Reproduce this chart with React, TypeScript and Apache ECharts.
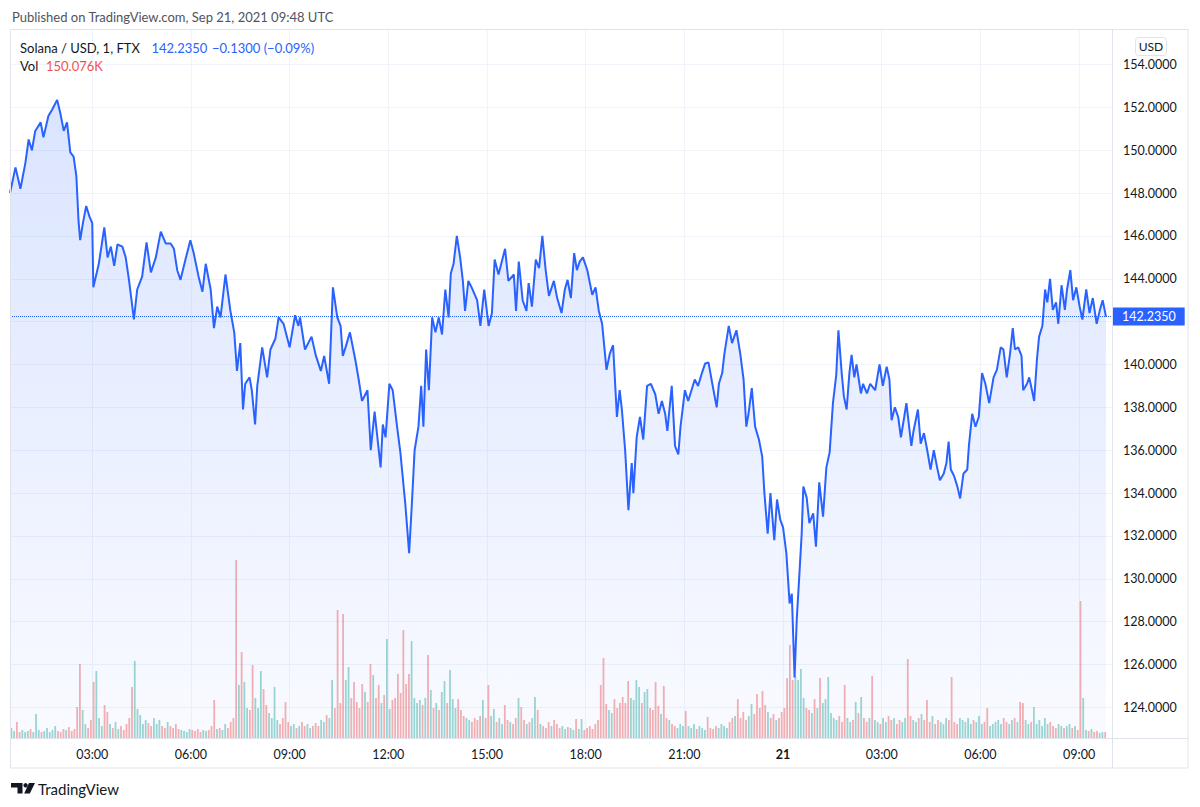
import React, { useEffect, useRef } from "react";
import * as echarts from "echarts";

// ---------- texts ----------
const headerText = "Published on TradingView.com, Sep 21, 2021 09:48 UTC";
const symbolText = "Solana / USD, 1, FTX";
const lastPriceText = "142.2350";
const changeText = "\u22120.1300 (\u22120.09%)";
const volLabel = "Vol";
const lastVolText = "150.076K";
const currencyText = "USD";
const brandText = "TradingView";
const lastPrice = 142.235;

// ---------- time axis (minutes after Sep 20 2021 00:00 UTC) ----------
const timeStart = 30;
const timeEnd = 2040;
const categoryStep = 10;
const tickMinutes = [180, 360, 540, 720, 900, 1080, 1260, 1440, 1620, 1800, 1980];
const tickLabels = ["03:00", "06:00", "09:00", "12:00", "15:00", "18:00", "21:00", "21", "03:00", "06:00", "09:00"];

// ---------- price axis ----------
const priceTicksMin = 122;
const priceTicksMax = 156;
const priceTickStep = 2;
const paneMin = 122.57;
const paneMax = 155.61;

// ---------- price samples (minute, price) ----------
const priceMinutes = [
  30, 40, 49, 58, 64, 70, 76, 86, 91, 100, 107, 116, 122, 128, 134, 140, 146, 151, 155, 158,
  163, 169, 175, 180, 182, 192, 202, 208, 214, 220, 226, 235, 241, 247, 256, 262, 271, 279, 287, 296,
  305, 314, 323, 329, 335, 341, 350, 359, 365, 374, 381, 387, 396, 402, 408, 414, 423, 432, 439, 444,
  450, 455, 459, 467, 471, 477, 481, 490, 499, 505, 514, 520, 529, 540, 550, 556, 559, 568, 580, 588,
  597, 603, 612, 619, 627, 633, 637, 642, 650, 660, 666, 672, 682, 688, 695, 706, 710, 715, 722, 728,
  736, 742, 751, 758, 763, 768, 775, 780, 784, 789, 794, 800, 806, 812, 818, 824, 830, 834, 839, 845,
  851, 856, 860, 866, 872, 882, 888, 895, 903, 909, 914, 921, 933, 939, 949, 953, 958, 965, 972, 976,
  982, 989, 995, 1001, 1007, 1013, 1022, 1028, 1036, 1042, 1047, 1053, 1059, 1064, 1069, 1075, 1083, 1092, 1098, 1104,
  1110, 1118, 1124, 1130, 1137, 1142, 1146, 1152, 1158, 1164, 1167, 1173, 1179, 1185, 1192, 1199, 1207, 1213, 1219, 1225,
  1229, 1237, 1243, 1249, 1253, 1261, 1267, 1273, 1279, 1285, 1292, 1298, 1304, 1311, 1319, 1323, 1329, 1333, 1341, 1347,
  1355, 1362, 1368, 1373, 1377, 1383, 1389, 1396, 1402, 1406, 1412, 1417, 1424, 1429, 1435, 1440, 1446, 1452, 1456, 1461,
  1465, 1470, 1474, 1477, 1483, 1488, 1495, 1500, 1506, 1513, 1519, 1525, 1531, 1537, 1541, 1547, 1551, 1556, 1561, 1565,
  1570, 1574, 1582, 1586, 1593, 1599, 1608, 1616, 1622, 1629, 1634, 1638, 1644, 1650, 1655, 1661, 1665, 1674, 1678, 1686,
  1691, 1697, 1703, 1709, 1715, 1721, 1726, 1733, 1738, 1742, 1746, 1752, 1758, 1763, 1769, 1776, 1779, 1785, 1791, 1797,
  1803, 1809, 1816, 1824, 1830, 1837, 1842, 1848, 1854, 1859, 1863, 1869, 1875, 1878, 1885, 1889, 1894, 1898, 1903, 1907,
  1913, 1918, 1922, 1927, 1932, 1938, 1942, 1948, 1954, 1958, 1964, 1969, 1975, 1981, 1986, 1993, 1999, 2005, 2012, 2018,
  2023, 2029,
];
const prices = [
  148.0, 149.2, 148.2, 149.4, 150.5, 150.0, 150.9, 151.3, 150.6, 151.6, 151.9, 152.35, 151.7, 150.9, 151.3, 149.9, 149.7, 148.8, 146.7, 145.8,
  146.6, 147.4, 146.9, 146.6, 143.6, 144.7, 146.4, 145.0, 145.5, 144.6, 145.6, 145.5, 145.0, 143.95, 142.1, 143.5, 144.1, 145.7, 144.3, 145.0,
  146.2, 145.65, 145.65, 145.4, 144.4, 143.95, 144.9, 145.8, 145.2, 144.1, 143.4, 144.7, 143.5, 141.7, 142.7, 142.2, 144.2, 142.5, 141.5, 139.7,
  141.0, 137.9, 139.1, 139.4, 138.8, 137.2, 139.0, 140.8, 139.4, 140.7, 141.2, 142.2, 141.9, 140.8, 142.3, 141.8, 142.2, 140.7, 141.3, 140.4,
  139.7, 140.4, 139.1, 143.6, 142.2, 141.8, 140.4, 140.8, 141.5, 140.2, 139.3, 138.3, 138.8, 136.0, 137.8, 135.2, 137.2, 136.6, 139.1, 138.8,
  137.1, 135.9, 133.5, 131.2, 133.5, 136.0, 137.1, 139.0, 137.1, 140.7, 138.8, 142.2, 141.5, 142.2, 141.4, 143.5, 142.2, 144.25, 144.7, 146.0,
  145.0, 143.9, 142.5, 143.9, 143.6, 143.0, 141.8, 143.5, 141.8, 142.4, 144.9, 144.2, 145.4, 143.9, 144.2, 142.5, 144.8, 143.0, 142.5, 143.8,
  142.7, 144.9, 144.5, 146.0, 144.4, 143.2, 143.9, 143.1, 142.4, 143.5, 143.95, 143.1, 145.2, 144.4, 144.8, 145.0, 144.4, 143.25, 143.6, 142.5,
  141.9, 139.75, 140.5, 140.9, 137.55, 138.8, 137.9, 136.0, 133.2, 135.4, 134.0, 136.6, 137.55, 136.5, 139.0, 139.1, 138.6, 137.7, 138.3, 137.7,
  136.9, 139.0, 136.2, 135.8, 137.1, 138.8, 138.3, 138.8, 139.3, 139.0, 139.6, 140.05, 140.1, 139.1, 138.0, 139.1, 139.6, 140.5, 141.8, 141.0,
  141.6, 140.5, 139.3, 137.1, 137.7, 138.9, 137.1, 136.5, 135.7, 134.0, 132.1, 134.0, 131.8, 133.7, 132.75, 132.4, 131.2, 128.85, 129.3, 125.4,
  128.1, 130.3, 132.1, 134.3, 133.8, 132.6, 133.05, 131.5, 134.5, 132.9, 135.2, 135.9, 138.2, 139.5, 141.6, 139.6, 138.5, 137.9, 139.6, 140.45,
  139.4, 140.0, 138.65, 139.1, 138.65, 139.1, 138.8, 140.0, 139.0, 139.9, 139.3, 137.4, 138.0, 137.55, 136.6, 137.55, 138.2, 136.2, 136.9, 137.9,
  136.3, 136.8, 136.0, 135.1, 136.0, 135.2, 134.6, 134.9, 135.4, 136.4, 135.1, 134.8, 134.3, 133.75, 134.9, 135.1, 136.2, 137.7, 137.1, 137.55,
  139.6, 139.1, 138.2, 139.4, 139.75, 140.8, 140.7, 139.4, 140.5, 141.7, 140.7, 140.8, 140.4, 138.8, 139.1, 139.4, 138.8, 138.3, 140.2, 141.3,
  141.8, 143.5, 142.9, 144.0, 142.55, 142.9, 141.9, 143.7, 142.55, 143.5, 144.4, 143.0, 143.6, 142.7, 142.1, 143.5, 142.4, 143.1, 141.9, 142.55,
  143.0, 142.235,
];

// ---------- volume (thousands), one bar per 5 minutes from 00:30 ----------
const volumeStep = 5;
const volumeK = [
  250, 175, 400, 150, 200, 150, 175, 225, 150, 600, 200, 150,
  175, 250, 150, 200, 300, 175, 150, 225, 200, 275, 175, 225,
  775, 1850, 700, 350, 250, 450, 1400, 1675, 500, 300, 825, 650,
  350, 250, 400, 225, 300, 200, 350, 500, 1275, 1925, 725, 575,
  350, 450, 375, 300, 500, 350, 450, 300, 250, 400, 300, 250,
  350, 225, 200, 175, 150, 225, 200, 175, 225, 150, 200, 175,
  200, 300, 950, 225, 250, 200, 350, 250, 400, 500, 4450, 1325,
  2150, 1400, 750, 700, 1825, 1000, 750, 1675, 1225, 825, 625, 500,
  1275, 450, 350, 500, 900, 400, 300, 350, 250, 300, 400, 300,
  350, 250, 300, 375, 300, 450, 400, 575, 500, 1450, 750, 3200,
  875, 3100, 1450, 1775, 1000, 1400, 900, 750, 1350, 1150, 900, 1850,
  1575, 1000, 1325, 875, 1075, 2475, 725, 950, 1000, 1600, 1125, 2700,
  1350, 1600, 2425, 1000, 875, 950, 825, 1000, 2075, 1200, 750, 875,
  700, 1150, 1425, 875, 1700, 975, 750, 975, 700, 550, 500, 450,
  400, 500, 450, 550, 950, 500, 1325, 550, 725, 400, 500, 350,
  825, 450, 400, 350, 500, 1000, 775, 450, 350, 400, 500, 1025,
  700, 350, 300, 250, 400, 300, 450, 350, 250, 300, 225, 275,
  250, 200, 475, 225, 475, 200, 250, 300, 225, 350, 450, 1325,
  2000, 850, 700, 625, 975, 750, 875, 1025, 875, 1425, 1000, 950,
  1450, 1275, 875, 1150, 1225, 750, 700, 1400, 800, 600, 1300, 500,
  450, 350, 300, 250, 350, 300, 675, 300, 250, 350, 225, 300,
  250, 200, 525, 250, 225, 300, 250, 350, 300, 250, 400, 500,
  550, 975, 500, 650, 450, 550, 850, 600, 1100, 750, 1175, 825,
  650, 500, 600, 450, 500, 650, 750, 1500, 2325, 1450, 1550, 1450,
  1725, 1000, 750, 700, 625, 975, 750, 1500, 875, 975, 1525, 625,
  500, 450, 550, 400, 1325, 500, 400, 450, 900, 625, 1025, 500,
  400, 500, 1550, 450, 400, 350, 500, 400, 550, 450, 500, 350,
  450, 400, 500, 1975, 550, 450, 400, 500, 600, 450, 950, 400,
  550, 350, 450, 400, 350, 500, 450, 1525, 400, 350, 500, 450,
  400, 500, 350, 450, 400, 550, 350, 400, 750, 300, 350, 400,
  450, 350, 500, 400, 350, 450, 500, 400, 900, 875, 450, 350,
  400, 775, 350, 450, 300, 500, 350, 400, 300, 250, 350, 300,
  250, 300, 350, 250, 300, 200, 3425, 1000, 200, 175, 225, 150,
  175, 125, 150, 150,
];
const volumeAxisMax = 17700;

const FONT = "Lato, 'Noto Sans', 'DejaVu Sans', sans-serif";
const BLUE = "#2962ff";
const TEXT = "#131722";
const BORDER = "#e0e3eb";
const GRID = "#f0f3fa";
const UP = "rgba(38,166,154,0.45)";
const DOWN = "rgba(239,83,80,0.45)";

function priceAt(t: number): number {
  if (t <= priceMinutes[0]) return prices[0];
  for (let i = 1; i < priceMinutes.length; i++) {
    if (t <= priceMinutes[i]) {
      const a = priceMinutes[i - 1];
      const b = priceMinutes[i];
      const f = (t - a) / (b - a);
      return prices[i - 1] + f * (prices[i] - prices[i - 1]);
    }
  }
  return prices[prices.length - 1];
}

function buildOption(): any {
  const categories: string[] = [];
  for (let m = timeStart; m <= timeEnd; m += categoryStep) categories.push(String(m));
  const isTick = (_i: number, v: string) => tickMinutes.indexOf(Number(v)) >= 0;

  const priceData = priceMinutes.map((m, i) => [m, prices[i]]);
  const volumeData = volumeK.map((v, i) => {
    const t = timeStart + i * volumeStep;
    const up = priceAt(t + volumeStep) >= priceAt(t);
    return { value: [t + volumeStep / 2, v], itemStyle: { color: up ? UP : DOWN } };
  });

  return {
    animation: false,
    backgroundColor: "#ffffff",
    textStyle: { fontFamily: FONT },
    grid: [
      { left: 10, right: 88, top: 30, bottom: 69 },
      { left: 10, right: 88, top: 21.64, bottom: 56.74 },
    ],
    xAxis: [
      {
        type: "category",
        gridIndex: 0,
        data: categories,
        boundaryGap: false,
        axisLine: { show: false },
        axisTick: { show: false },
        axisLabel: {
          interval: isTick,
          margin: 10,
          color: TEXT,
          fontSize: 12.5,
          fontFamily: FONT,
          formatter: (v: string) => {
            const k = tickMinutes.indexOf(Number(v));
            if (k < 0) return "";
            const t = tickLabels[k];
            return t.indexOf(":") < 0 ? "{b|" + t + "}" : t;
          },
          rich: { b: { fontWeight: "bold", fontSize: 12.5, color: TEXT, fontFamily: FONT } },
        },
        splitLine: { show: true, interval: isTick, lineStyle: { color: GRID, width: 1 } },
      },
      { type: "value", gridIndex: 0, min: timeStart, max: timeEnd, show: false },
      { type: "value", gridIndex: 1, min: 0, max: 1, show: false },
    ],
    yAxis: [
      { type: "value", gridIndex: 0, min: paneMin, max: paneMax, show: false, splitLine: { show: false } },
      { type: "value", gridIndex: 0, min: 0, max: volumeAxisMax, show: false, splitLine: { show: false } },
      {
        type: "value",
        gridIndex: 1,
        position: "right",
        min: priceTicksMin,
        max: priceTicksMax,
        interval: priceTickStep,
        axisLine: { show: false },
        axisTick: { show: false },
        axisLabel: {
          showMinLabel: false,
          showMaxLabel: false,
          align: "left",
          margin: 11,
          color: TEXT,
          fontSize: 12.5,
          fontFamily: FONT,
          // the last-price tag covers the tick label it sits on
          formatter: (v: number) => (Math.abs(v - lastPrice) < 1 ? "" : v.toFixed(4)),
        },
        splitLine: { show: true, showMinLine: false, showMaxLine: false, lineStyle: { color: GRID, width: 1 } },
      },
    ],
    series: [
      {
        type: "bar",
        name: "Volume",
        xAxisIndex: 1,
        yAxisIndex: 1,
        barWidth: 1.8,
        data: volumeData,
        silent: true,
      },
      {
        type: "line",
        name: "Price",
        xAxisIndex: 1,
        yAxisIndex: 0,
        data: priceData,
        showSymbol: false,
        symbol: "none",
        lineStyle: { color: BLUE, width: 2 },
        itemStyle: { color: BLUE },
        areaStyle: {
          origin: "start",
          color: new echarts.graphic.LinearGradient(0, 0, 0, 1, [
            { offset: 0, color: "rgba(41,98,255,0.24)" },
            { offset: 1, color: "rgba(41,98,255,0.04)" },
          ]),
        },
        silent: true,
        markLine: {
          silent: true,
          symbol: ["none", "none"],
          lineStyle: { color: BLUE, type: "dotted", width: 1 },
          label: {
            show: true,
            position: "end",
            distance: 1,
            formatter: lastPriceText,
            backgroundColor: BLUE,
            color: "#ffffff",
            fontSize: 12.5,
            fontFamily: FONT,
            padding: [3, 9, 2, 9],
          },
          data: [{ yAxis: lastPrice }],
        },
      },
    ],
    graphic: [
      { type: "rect", z: 20, silent: true, shape: { x: 10.5, y: 29.5, width: 1177.5, height: 738.5 }, style: { fill: "none", stroke: BORDER, lineWidth: 1 } },
      { type: "line", z: 20, silent: true, shape: { x1: 1112.5, y1: 29.5, x2: 1112.5, y2: 768 }, style: { stroke: BORDER, lineWidth: 1 } },
      { type: "line", z: 20, silent: true, shape: { x1: 10.5, y1: 738.5, x2: 1188, y2: 738.5 }, style: { stroke: BORDER, lineWidth: 1 } },
      { type: "text", z: 21, silent: true, style: { text: headerText, x: 12, y: 16.5, fill: "#50535e", fontSize: 13, fontFamily: FONT, verticalAlign: "middle" } },
      { type: "text", z: 21, silent: true, style: { text: symbolText, x: 20, y: 47.5, fill: TEXT, fontSize: 13, fontFamily: FONT, verticalAlign: "middle" } },
      { type: "text", z: 21, silent: true, style: { text: lastPriceText, x: 151.5, y: 47.5, fill: BLUE, fontSize: 13, fontFamily: FONT, verticalAlign: "middle" } },
      { type: "text", z: 21, silent: true, style: { text: changeText, x: 212, y: 47.5, fill: BLUE, fontSize: 13, fontFamily: FONT, verticalAlign: "middle" } },
      { type: "text", z: 21, silent: true, style: { text: volLabel, x: 20, y: 66, fill: TEXT, fontSize: 13, fontFamily: FONT, verticalAlign: "middle" } },
      { type: "text", z: 21, silent: true, style: { text: lastVolText, x: 46, y: 66, fill: "#ef5350", fontSize: 13, fontFamily: FONT, verticalAlign: "middle" } },
      { type: "rect", z: 21, silent: true, shape: { x: 1135.5, y: 37.5, width: 31, height: 18, r: 3 }, style: { fill: "#ffffff", stroke: BORDER, lineWidth: 1 } },
      { type: "text", z: 22, silent: true, style: { text: currencyText, x: 1151, y: 46.5, fill: TEXT, fontSize: 12, fontFamily: FONT, align: "center", verticalAlign: "middle" } },
      { type: "polygon", z: 21, silent: true, shape: { points: [[11, 783], [22.5, 783], [22.5, 793.5], [17.5, 793.5], [17.5, 787.5], [11, 787.5]] }, style: { fill: "#131722" } },
      { type: "circle", z: 21, silent: true, shape: { cx: 25.6, cy: 785.3, r: 2.2 }, style: { fill: "#131722" } },
      { type: "polygon", z: 21, silent: true, shape: { points: [[29, 783], [35, 783], [29.8, 793.5], [24.2, 793.5]] }, style: { fill: "#131722" } },
      { type: "text", z: 21, silent: true, style: { text: brandText, x: 38, y: 788.5, fill: TEXT, fontSize: 15, fontFamily: FONT, verticalAlign: "middle" } },
    ],
  };
}

export default function App() {
  const ref = useRef<HTMLDivElement>(null);
  useEffect(() => {
    document.body.style.margin = "0";
    if (!ref.current) return;
    const chart = echarts.init(ref.current, undefined, { renderer: "svg" });
    chart.setOption(buildOption());
    return () => chart.dispose();
  }, []);
  return (
    <div
      ref={ref}
      style={{ position: "fixed", left: 0, top: 0, width: 1200, height: 807, background: "#ffffff" }}
    />
  );
}
